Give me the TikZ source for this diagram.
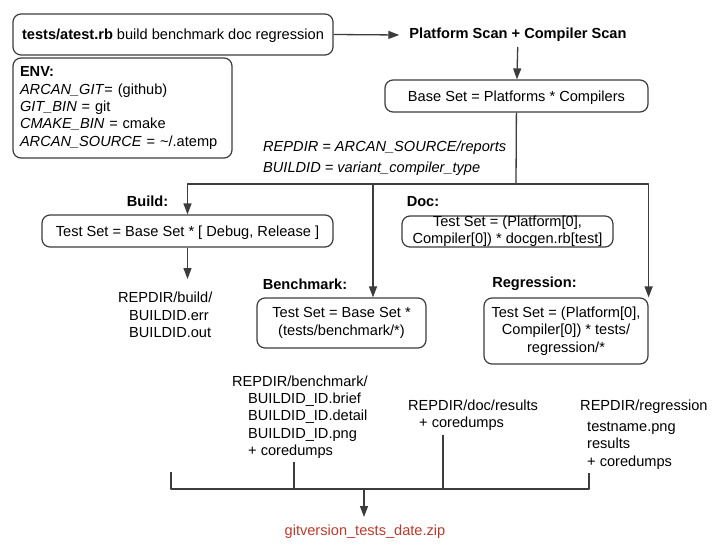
\documentclass[tikz,border=0pt]{standalone}
\usepackage{fontspec}
\setmainfont{Liberation Sans}
\usetikzlibrary{arrows.meta}
\definecolor{zipred}{RGB}{192,57,43}
\definecolor{edge}{RGB}{60,60,60}
\newcommand{\dfont}{\fontsize{14.6}{17.3}\selectfont}

\begin{document}
\begin{tikzpicture}[x=1pt,y=-1pt,>={Triangle[length=11pt,width=8pt]},line join=round,font=\dfont,
	box/.style={draw=edge,line width=1.2pt,rounded corners=8pt,align=center,inner sep=0pt},
	oneline/.style={text height=12pt,text depth=1.6pt},
	lbl/.style={font=\dfont\bfseries,inner sep=0pt},
	outtxt/.style={align=left,anchor=north west,inner sep=0pt},
	link/.style={draw=edge,line width=1.3pt}]
	\useasboundingbox (0,0) rectangle (725,556);
	% boxes
	\node[box,oneline,minimum width=320pt,minimum height=41pt] (atest) at (173,34.5)
		{\textbf{tests/atest.rb} build benchmark doc regression};
	\node[box,minimum width=219pt,minimum height=100pt,text width=205pt,align=left] (env) at (122.5,108)
		{\textbf{ENV:}\\
		 \textit{ARCAN\_GIT}= (github)\\
		 \textit{GIT\_BIN} = git\\
		 \textit{CMAKE\_BIN} = cmake\\
		 \textit{ARCAN\_SOURCE} = \textasciitilde/.atemp};
	\node[lbl,inner xsep=10pt,inner ysep=5pt] (scan) at (518,35) {Platform Scan + Compiler Scan};
	\node[box,oneline,minimum width=263pt,minimum height=32pt] (base) at (516.5,96) {Base Set = Platforms * Compilers};
	\node[anchor=west,inner sep=0pt] (repdir) at (263,148) {\textit{REPDIR = ARCAN\_SOURCE/reports}};
	\node[anchor=west,inner sep=0pt] (buildid) at (263,169) {\textit{BUILDID = variant\_compiler\_type}};
	\node[lbl] (buildlbl) at (147.5,201.5) {Build:};
	\node[box,oneline,minimum width=291pt,minimum height=32pt] (build) at (187.5,231) {Test Set = Base Set * [ Debug, Release ]};
	\node[lbl] (doclbl) at (423,201.5) {Doc:};
	\node[box,minimum width=211pt,minimum height=31pt] (doc) at (507.5,231.5)
		{Test Set = (Platform[0],\\Compiler[0]) * docgen.rb[test]};
	\node[lbl] (benchlbl) at (305,284.5) {Benchmark:};
	\node[box,minimum width=169pt,minimum height=50pt] (bench) at (341.5,323)
		{Test Set = Base Set *\\(tests/benchmark/*)};
	\node[lbl] (regrlbl) at (534.5,284) {Regression:};
	\node[box,minimum width=164pt,minimum height=66pt] (regr) at (566,331)
		{Test Set = (Platform[0],\\Compiler[0]) * tests/\\regression/*};
	% outputs
	\node[outtxt] (buildout) at (118,292)
		{REPDIR/build/\\\hspace*{11pt}BUILDID.err\\\hspace*{11pt}BUILDID.out};
	\node[outtxt] (benchout) at (232,375.5)
		{REPDIR/benchmark/\\\hspace*{16pt}BUILDID\_ID.brief\\\hspace*{16pt}BUILDID\_ID.detail\\\hspace*{16pt}BUILDID\_ID.png\\\hspace*{16pt}+ coredumps};
	\node[outtxt] (docout) at (408,399.5)
		{REPDIR/doc/results\\\hspace*{11pt}+ coredumps};
	\node[outtxt] (regrout) at (580,399.5)
		{REPDIR/regression\\[4pt]\hspace*{7pt}testname.png\\\hspace*{7pt}results\\\hspace*{7pt}+ coredumps};
	\node[text=zipred,inner sep=0pt,anchor=north] (zip) at (365,525) {gitversion\_tests\_date.zip};
	% connectors
	\coordinate (hub) at (516,184);
	\draw[link,->] (atest.east) -- (scan.west);
	\draw[link,->] (scan) -- (base);
	\draw[link] (base) -- (hub);
	\draw[link,->] (hub) -| (build.north);
	\draw[link,->] (hub) -| ([xshift=31.5pt]bench.north);
	\draw[link,->] (hub) -| (regr.north east);
	\draw[link,->,shorten >=13pt] (build) -- (build.south |- buildout.north);
	% collecting bracket
	\coordinate (t1) at (171,472);
	\coordinate (t2) at (294,462);
	\coordinate (t3) at (443,435);
	\coordinate (t4) at (589,473);
	\coordinate (b4) at (589,489);
	\coordinate (jn) at (364,489);
	\draw[link] (t1) |- (b4) -- (t4);
	\draw[link] (t2) -- (t2 |- jn);
	\draw[link] (t3) -- (t3 |- jn);
	\draw[link,->,shorten >=8pt] (jn) -- (jn |- zip.north);
\end{tikzpicture}
\end{document}
